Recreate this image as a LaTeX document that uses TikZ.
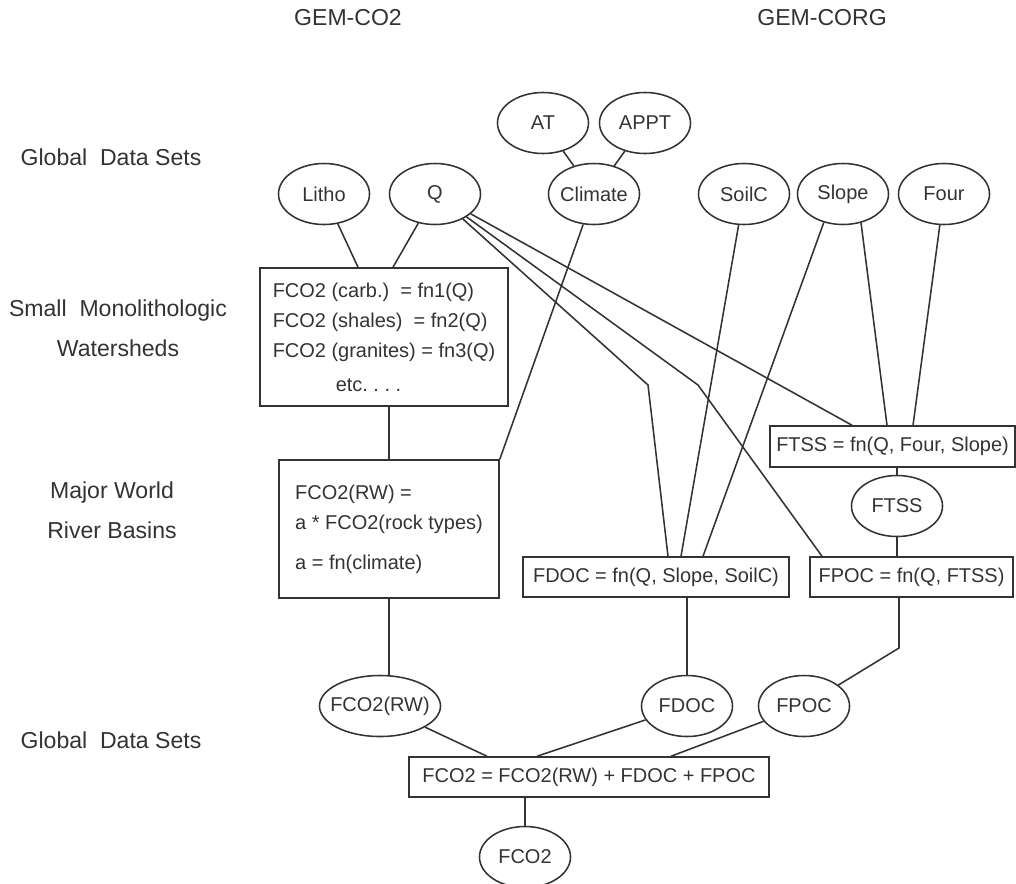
\documentclass[tikz,border=0pt]{standalone}
\usepackage{fontspec}
\setmainfont{Liberation Sans}
\usepackage{tikz}
\usetikzlibrary{shapes.geometric,calc}

\definecolor{ink}{gray}{0.2}
\newcommand{\nw}[1]{\makebox[0pt]{#1}}

\begin{document}
\frenchspacing
\begin{tikzpicture}[x=0.025cm,y=-0.025cm,
        every node/.style={text=ink},
        ell/.style={ellipse,draw=ink,line width=1.1pt,minimum width=2.275cm,minimum height=1.525cm,inner sep=0pt,font=\fontsize{14.2}{17}\selectfont},
        eqbox/.style={rectangle,draw=ink,line width=1.1pt,inner sep=0pt,font=\fontsize{14.2}{21.3}\selectfont},
        rowlabel/.style={align=center,inner sep=0pt,font=\fontsize{16.4}{28.4}\selectfont},
        link/.style={draw=ink,line width=1.1pt}]
        \useasboundingbox (0,0) rectangle (1016,883);

        \node[rowlabel] (gemco2) at (348,18) {GEM-CO2};
        \node[rowlabel] (gemcorg) at (822,18) {GEM-CORG};
        \node[rowlabel] (lbltop) at (111,157) {Global~~Data Sets};
        \node[rowlabel] (lblsmall) at (118,328) {Small~~Monolithologic\\Watersheds};
        \node[rowlabel] (lblmajor) at (112,510) {Major World\\River Basins};
        \node[rowlabel] (lblbot) at (111,740) {Global~~Data Sets};

        \node[ell] (at) at (543,123) {AT};
        \node[ell] (appt) at (645,123) {APPT};
        \node[ell] (litho) at (324,194) {Litho};
        \node[ell] (q) at (435,194) {Q};
        \node[ell] (climate) at (594,194) {\nw{Climate}};
        \node[ell] (soilc) at (744,194) {SoilC};
        \node[ell] (slope) at (843,194) {Slope};
        \node[ell] (four) at (944,194) {Four};

        \node[eqbox,minimum width=6.2cm,minimum height=3.45cm,align=left] (watershed) at (384,337)
        {FCO2 (carb.)~~= fn1(Q)\\FCO2 (shales)~~= fn2(Q)\\FCO2 (granites) = fn3(Q)\\[0.1cm]\hspace*{1.575cm}etc. . . .};
        \node[eqbox,minimum width=5.5cm,minimum height=3.45cm,align=left] (basin) at (389,529)
        {FCO2(RW) =\\a * FCO2(rock types)\\[0.25cm]a = fn(climate)};

        \node[eqbox,minimum width=6.125cm,minimum height=1.025cm] (ftssbox) at (892.5,446.5) {FTSS = fn(Q, Four, Slope)};
        \node[ell] (ftss) at (897,506) {FTSS};
        \node[eqbox,minimum width=6.65cm,minimum height=1cm] (fdocbox) at (656,577) {FDOC = fn(Q, Slope, SoilC)};
        \node[eqbox,minimum width=5.075cm,minimum height=1cm] (fpocbox) at (911.5,577) {FPOC = fn(Q, FTSS)};

        \node[ell,minimum width=3.025cm] (rw) at (380,706) {\nw{FCO2(RW)}};
        \node[ell] (fdoc) at (687,706) {FDOC};
        \node[ell] (fpoc) at (804,706) {FPOC};
        \node[eqbox,minimum width=9cm,minimum height=1cm] (sum) at (589,777) {FCO2 = FCO2(RW) + FDOC + FPOC};
        \node[ell] (fco2) at (525,857) {FCO2};

        \coordinate (bendd) at (648,385);
        \coordinate (bendp) at (698,385);
        \coordinate (kink) at (899,648);

        \draw[link] (at) -- (climate);
        \draw[link] (appt) -- (climate);
        \draw[link] (litho) -- ([xshift=-0.65cm]watershed.north);
        \draw[link] (q) -- ([xshift=0.225cm]watershed.north);
        \draw[link] (watershed.south -| basin.north) -- (basin.north);
        \draw[link] (climate) -- (basin.north east);
        \draw[link] (basin.south) -- (basin.south |- rw.north);

        \draw[link] (q) -- ([xshift=-1.0125cm]ftssbox.north);
        \draw[link] (q) -- (bendd) -- ([xshift=0.3cm]fdocbox.north);
        \draw[link] (q) -- (bendp) -- ([xshift=-2.2375cm]fpocbox.north);
        \draw[link] (soilc) -- ([xshift=0.625cm]fdocbox.north);
        \draw[link] (slope.-124) -- ([xshift=1.175cm]fdocbox.north);
        \draw[link] (slope.-58) -- ([xshift=-0.1375cm]ftssbox.north);
        \draw[link] (four) -- ([xshift=0.5125cm]ftssbox.north);

        \draw[link] (ftss.north |- ftssbox.south) -- (ftss.north);
        \draw[link] (ftss.south) -- (ftss.south |- fpocbox.north);
        \draw[link] (kink |- fpocbox.south) -- (kink) -- (fpoc);
        \draw[link] (fdoc.north |- fdocbox.south) -- (fdoc.north);

        \draw[link] (rw) -- ([xshift=-2.55cm]sum.north);
        \draw[link] (fdoc) -- ([xshift=-1.3cm]sum.north);
        \draw[link] (fpoc) -- ([xshift=2.05cm]sum.north);
        \draw[link] (fco2.north |- sum.south) -- (fco2.north);
\end{tikzpicture}
\end{document}
